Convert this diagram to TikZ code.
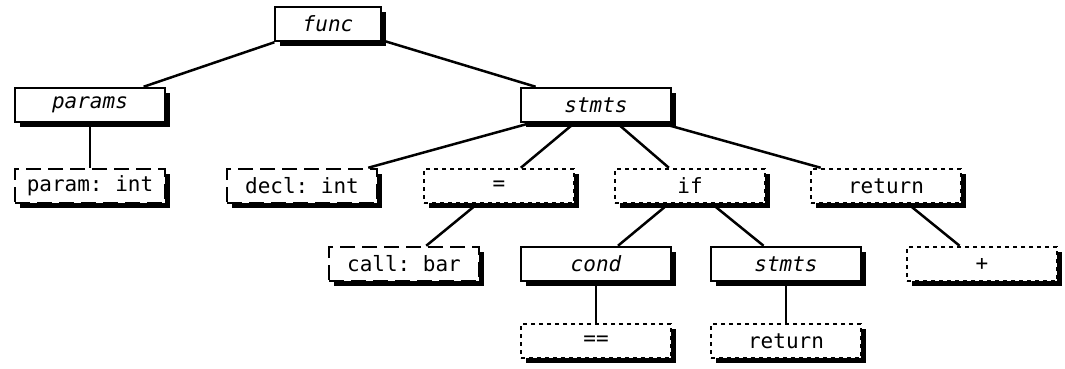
\documentclass[tikz,border=0pt]{standalone}
\usepackage{fontspec}
\setmonofont{DejaVu Sans Mono}
\usetikzlibrary{shadows}

\tikzset{
  ast/.style={draw=black, fill=white, line width=2.5pt, minimum width=150pt,
    minimum height=34pt, inner sep=0pt,
    font=\fontsize{21}{21}\selectfont\ttfamily,
    drop shadow={shadow xshift=4.5pt, shadow yshift=-4.5pt, fill=black, opacity=1}},
  inner/.style={ast, font=\fontsize{21}{21}\selectfont\ttfamily\itshape},
  leaf/.style={ast, dash pattern=on 15pt off 7pt},
  op/.style={ast, dash pattern=on 4pt off 4pt},
  edge/.style={line width=2.5pt}
}

\begin{document}
\begin{tikzpicture}[x=1pt,y=-1pt]
\useasboundingbox (0,0) rectangle (1065,368);
% top level
\node[inner, minimum width=106pt] (func) at (328,24) {func};
\node[inner] (params) at (90,105) {params};
\node[inner] (stmts) at (596,105) {stmts};
% statements
\node[leaf] (param) at (90,186) {param: int};
\node[leaf] (decl) at (302,186) {decl: int};
\node[op] (assign) at (499,186) {=};
\node[op] (if) at (690,186) {if};
\node[op] (ret) at (886,186) {return};
% third row
\node[leaf] (call) at (404,264) {call: bar};
\node[inner] (cond) at (596,264) {cond};
\node[inner] (body) at (786,264) {stmts};
\node[op] (plus) at (982,264) {+};
% bottom row
\node[op] (eq) at (596,341) {==};
\node[op] (ret2) at (786,341) {return};

\draw[edge] (func) -- (params);
\draw[edge] (func) -- (stmts);
\draw[edge] (params) -- (param);
\draw[edge] (stmts) -- (decl);
\draw[edge] (stmts) -- (assign);
\draw[edge] (stmts) -- (if);
\draw[edge] (stmts) -- (ret);
\draw[edge] (assign) -- (call);
\draw[edge] (if) -- (cond);
\draw[edge] (if) -- (body);
\draw[edge] (ret) -- (plus);
\draw[edge] (cond) -- (eq);
\draw[edge] (body) -- (ret2);
\end{tikzpicture}
\end{document}
